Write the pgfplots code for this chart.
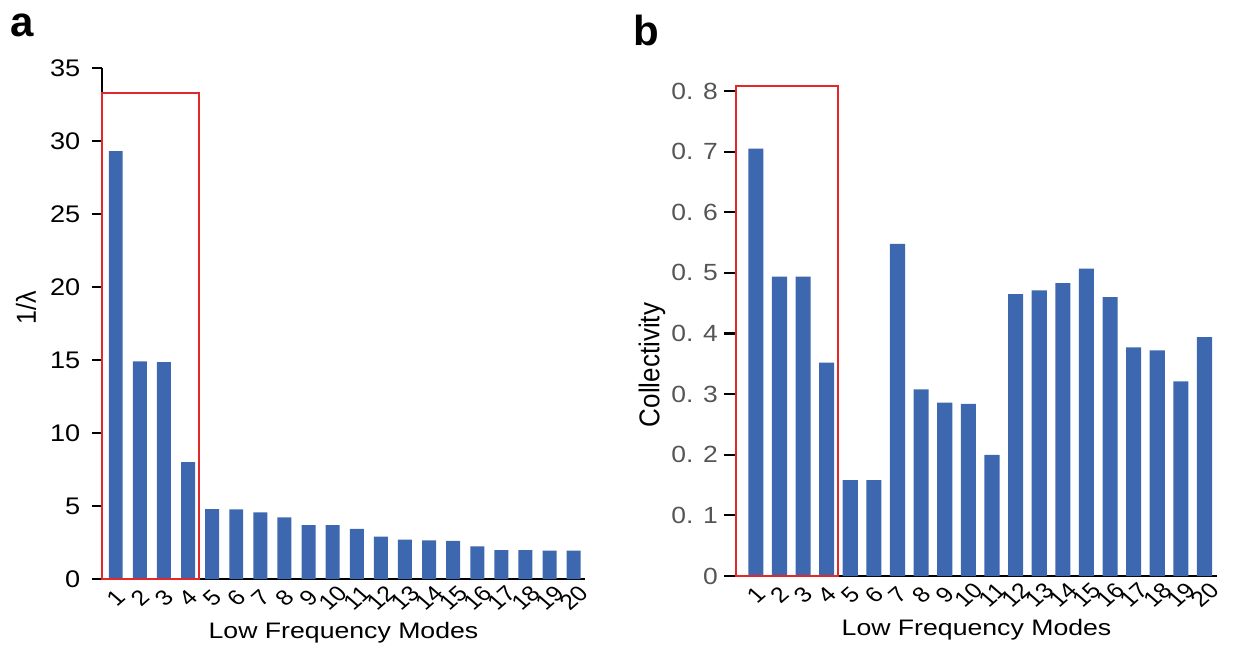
\documentclass[border=0pt]{standalone}
\usepackage{pgfplots}
\pgfplotsset{compat=1.18}
\usepackage{pgfplotstable}
\usepackage{fontspec}
\setmainfont{Liberation Sans}
\definecolor{barblue}{RGB}{61,104,176}
\definecolor{boxred}{RGB}{226,40,40}
\definecolor{tickgray}{RGB}{85,85,85}

\pgfplotstableread{
x y
1 29.3
2 14.9
3 14.85
4 8.0
5 4.78
6 4.77
7 4.57
8 4.22
9 3.69
10 3.69
11 3.43
12 2.90
13 2.70
14 2.65
15 2.61
16 2.23
17 1.98
18 1.98
19 1.94
20 1.94
}\tablea

\pgfplotstableread{
x y
1 0.705
2 0.494
3 0.494
4 0.352
5 0.158
6 0.158
7 0.548
8 0.308
9 0.286
10 0.284
11 0.200
12 0.465
13 0.471
14 0.483
15 0.507
16 0.460
17 0.377
18 0.372
19 0.321
20 0.394
}\tableb

\pgfplotsset{
  mystyle/.style={
    scale only axis,
    clip=false,
    axis lines*=left,
    axis line style={line width=1.2pt,-},
    ymin=0,
    xtick={1,...,20},
    ytick align=outside,
    xtick align=inside,
    ytick style={line width=1.1pt,black},
    xtick style={draw=none},
    /pgf/number format/assume math mode=true,
    xticklabel style={yshift=-9.5pt, xscale=1.15, rotate=45, anchor=center, font=\fontsize{10.8}{12}\selectfont},
    xlabel={Low Frequency Modes},
    every axis x label/.style={at={(axis description cs:0.5,0)}, yshift=-27pt, xscale=1.19, anchor=center, font=\fontsize{11.2}{13}\selectfont},
  }
}

\begin{document}
\begin{tikzpicture}
\useasboundingbox (0,0) rectangle (622.5pt,324.5pt);

\node[font=\fontsize{21}{22}\selectfont\bfseries] at (11.3pt,312pt) {a};
\node[font=\fontsize{21}{22}\selectfont\bfseries] at (323.3pt,309.3pt) {b};

\begin{axis}[mystyle,
  at={(51pt,35pt)}, anchor=south west,
  width=241.5pt, height=255.5pt,
  xmin=0.43, xmax=20.47, ymax=35,
  major tick length=5pt,
  ytick={0,5,...,35},
  yticklabel style={font=\fontsize{12}{14}\selectfont, xscale=1.13, inner xsep=5pt},
  ylabel={1/λ},
  every axis y label/.style={at={(axis description cs:0,0.53)}, xshift=-38pt, xscale=1.1, rotate=90, anchor=center, font=\fontsize{12.5}{14}\selectfont},
]
\addplot[ybar, bar width=0.58, fill=barblue, draw=none] table[x=x,y=y] {\tablea};
\draw[boxred, line width=0.85pt] (axis cs:0.43,0) rectangle (axis cs:4.45,33.3);
\end{axis}

\begin{axis}[mystyle,
  at={(368pt,36.5pt)}, anchor=south west,
  width=240.5pt, height=242.5pt,
  xmin=0.16, xmax=20.53, ymax=0.8,
  major tick length=6pt,
  ytick={0,0.1,...,0.8},
  yticklabels={0,0. 1,0. 2,0. 3,0. 4,0. 5,0. 6,0. 7,0. 8},
  yticklabel style={text=tickgray, font=\fontsize{11.7}{13}\selectfont, xscale=1.13, inner xsep=2.5pt},
  ylabel={Collectivity},
  every axis y label/.style={at={(axis description cs:0,0.435)}, xshift=-42pt, xscale=1.1, rotate=90, anchor=center, font=\fontsize{13}{15}\selectfont},
]
\addplot[ybar, bar width=0.64, fill=barblue, draw=none] table[x=x,y=y] {\tableb};
\draw[boxred, line width=0.85pt] (axis cs:0.16,0) rectangle (axis cs:4.48,0.808);
\end{axis}
\end{tikzpicture}
\end{document}
